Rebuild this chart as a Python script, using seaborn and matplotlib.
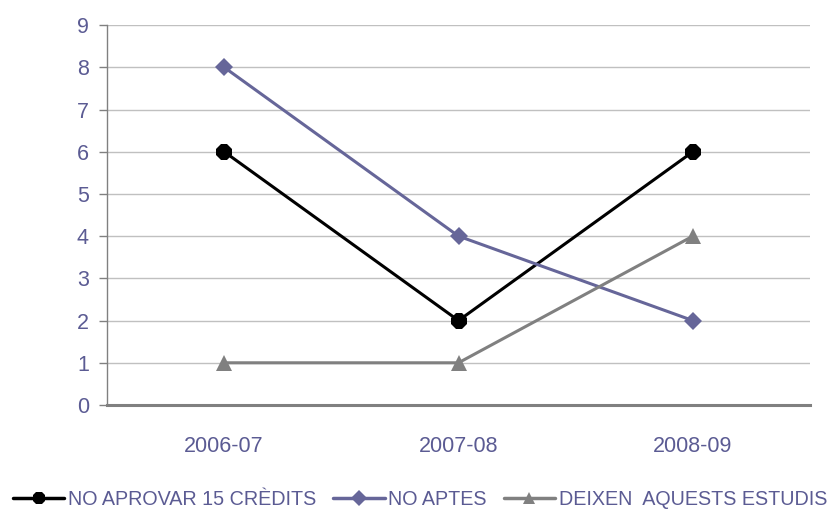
import numpy as np
import matplotlib
matplotlib.use("Agg")
import matplotlib.pyplot as plt
import pandas as pd
import seaborn as sns

# data
cursos = ["2006-07", "2007-08", "2008-09"]
series = ["NO APROVAR 15 CRÈDITS", "NO APTES", "DEIXEN  AQUESTS ESTUDIS"]
no_aprovar = [6, 2, 6]
no_aptes = [8, 4, 2]
deixen = [1, 1, 4]

colors = ["#000000", "#666699", "#808080"]
markers = ["8", "D", "^"]
text_color = "#5b5b93"

df = pd.DataFrame({
    "curs": cursos * 3,
    "x": list(range(len(cursos))) * 3,
    "valor": no_aprovar + no_aptes + deixen,
    "serie": [series[0]] * 3 + [series[1]] * 3 + [series[2]] * 3,
})

sns.set_style("white")
plt.rcParams["font.family"] = ["Liberation Sans", "DejaVu Sans"]

fig = plt.figure(figsize=(8.32, 5.12), dpi=100)
ax = fig.add_axes([0.1286, 0.209, 0.845, 0.742])

sns.lineplot(data=df, x="x", y="valor", hue="serie", style="serie",
             palette=colors, markers=markers, dashes=False, linewidth=2.2,
             markersize=11, markeredgewidth=0, ax=ax, legend=False)
# the diamond looks a bit smaller in the original
ax.lines[1].set_markersize(9.5)
ax.lines[0].set_markersize(12)

ax.set_ylim(0, 9)
ax.set_xlim(-0.5, 2.5)
ax.set_yticks(range(0, 10))
ax.yaxis.grid(True, color="#c0c0c0", linewidth=1)
ax.set_axisbelow(True)

ax.set_xticks(range(len(cursos)))
ax.set_xticklabels(cursos)
ax.set_xticks([-0.5, 0.5, 1.5, 2.5], minor=True)
ax.tick_params(axis="x", which="major", length=0, pad=22, labelsize=15.5, labelcolor=text_color)
ax.tick_params(axis="x", which="minor", length=5, width=1, color="#808080", direction="out")
ax.tick_params(axis="y", length=6, width=1, color="#808080", direction="out", left=True,
               labelsize=15.5, labelcolor=text_color, pad=7)
ax.set_xlabel("")
ax.set_ylabel("")

for s in ["top", "right"]:
    ax.spines[s].set_visible(False)
ax.spines["left"].set_color("#808080")
ax.spines["left"].set_linewidth(1)
ax.spines["bottom"].set_color("#808080")
ax.spines["bottom"].set_linewidth(2.2)

handles = [plt.Line2D([], [], color=c, marker=m, markersize=ms, markeredgewidth=0, linewidth=2.5)
           for c, m, ms in zip(colors, markers, [10, 8, 9])]
leg = fig.legend(handles, series, loc="center", bbox_to_anchor=(0.505, 0.024), ncol=3,
                 frameon=False, handlelength=2.6, handletextpad=0.2, columnspacing=0.85,
                 fontsize=14.2, labelcolor=text_color, borderpad=0)

fig.savefig("out.png", dpi=100)
